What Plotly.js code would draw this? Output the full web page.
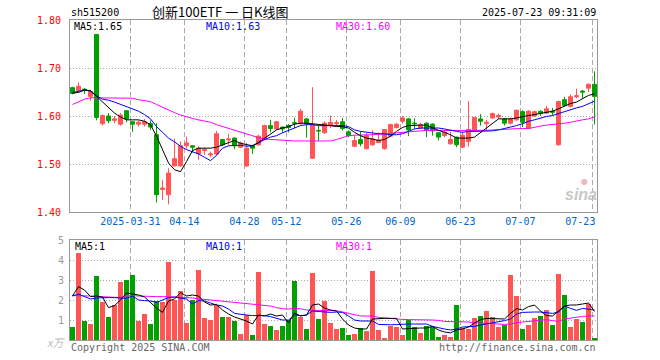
<!DOCTYPE html>
<html><head><meta charset="utf-8">
<script src="https://cdn.plot.ly/plotly-3.0.1.min.js"></script>
<style>html,body{margin:0;padding:0;background:#fff}#chart{width:660px;height:360px}</style>
</head><body><div id="chart"></div>
<script>
const dates = ["2025-03-17","2025-03-18","2025-03-19","2025-03-20","2025-03-21","2025-03-24","2025-03-25","2025-03-26","2025-03-27","2025-03-28",
"2025-03-31","2025-04-01","2025-04-02","2025-04-03","2025-04-07","2025-04-08","2025-04-09","2025-04-10","2025-04-11","2025-04-14",
"2025-04-15","2025-04-16","2025-04-17","2025-04-18","2025-04-21","2025-04-22","2025-04-23","2025-04-24","2025-04-25","2025-04-28",
"2025-04-29","2025-04-30","2025-05-06","2025-05-07","2025-05-08","2025-05-09","2025-05-12","2025-05-13","2025-05-14","2025-05-15",
"2025-05-16","2025-05-19","2025-05-20","2025-05-21","2025-05-22","2025-05-23","2025-05-26","2025-05-27","2025-05-28","2025-05-29",
"2025-05-30","2025-06-03","2025-06-04","2025-06-05","2025-06-06","2025-06-09","2025-06-10","2025-06-11","2025-06-12","2025-06-13",
"2025-06-16","2025-06-17","2025-06-18","2025-06-19","2025-06-20","2025-06-23","2025-06-24","2025-06-25","2025-06-26","2025-06-27",
"2025-06-30","2025-07-01","2025-07-02","2025-07-03","2025-07-04","2025-07-07","2025-07-08","2025-07-09","2025-07-10","2025-07-11",
"2025-07-14","2025-07-15","2025-07-16","2025-07-17","2025-07-18","2025-07-21","2025-07-22","2025-07-23"];

const openP = [1.659,1.653,1.656,1.641,1.770,1.584,1.600,1.591,1.583,1.611,
1.588,1.583,1.583,1.584,1.561,1.447,1.436,1.496,1.496,1.538,
1.538,1.521,1.528,1.519,1.521,1.551,1.550,1.554,1.535,1.496,
1.538,1.540,1.551,1.580,1.573,1.577,1.580,1.586,1.584,1.594,
1.512,1.570,1.565,1.580,1.584,1.588,1.567,1.537,1.551,1.532,
1.540,1.545,1.532,1.558,1.576,1.589,1.594,1.585,1.574,1.585,
1.583,1.565,1.559,1.542,1.556,1.535,1.547,1.569,1.594,1.584,
1.596,1.598,1.594,1.585,1.592,1.609,1.574,1.600,1.610,1.606,
1.610,1.540,1.634,1.620,1.640,1.652,1.658,1.666];
const highP = [1.661,1.670,1.658,1.655,1.771,1.603,1.606,1.600,1.606,1.612,
1.590,1.591,1.594,1.591,1.585,1.467,1.491,1.553,1.547,1.557,
1.539,1.537,1.534,1.526,1.569,1.552,1.563,1.556,1.547,1.544,
1.540,1.561,1.582,1.592,1.590,1.578,1.583,1.596,1.615,1.596,
1.660,1.580,1.589,1.601,1.592,1.596,1.570,1.560,1.568,1.565,
1.570,1.566,1.573,1.584,1.585,1.600,1.596,1.595,1.586,1.587,
1.585,1.567,1.570,1.567,1.557,1.568,1.631,1.598,1.604,1.592,
1.607,1.605,1.596,1.597,1.613,1.612,1.612,1.611,1.612,1.621,
1.617,1.632,1.640,1.645,1.657,1.654,1.668,1.693];
const lowP = [1.645,1.651,1.646,1.632,1.591,1.580,1.585,1.585,1.580,1.587,
1.567,1.578,1.578,1.571,1.420,1.425,1.416,1.495,1.495,1.532,
1.524,1.509,1.519,1.514,1.517,1.537,1.540,1.531,1.533,1.494,
1.521,1.538,1.549,1.566,1.571,1.565,1.566,1.575,1.582,1.555,
1.511,1.548,1.563,1.575,1.578,1.570,1.556,1.535,1.537,1.530,
1.538,1.543,1.530,1.556,1.574,1.584,1.558,1.573,1.573,1.556,
1.559,1.549,1.556,1.541,1.535,1.533,1.536,1.567,1.580,1.570,
1.594,1.594,1.580,1.582,1.590,1.577,1.573,1.598,1.600,1.604,
1.601,1.538,1.620,1.618,1.637,1.637,1.650,1.582];
const closeP = [1.647,1.662,1.653,1.651,1.597,1.601,1.590,1.594,1.602,1.594,
1.583,1.587,1.588,1.577,1.436,1.450,1.481,1.511,1.538,1.544,
1.535,1.533,1.530,1.521,1.563,1.540,1.552,1.538,1.544,1.533,
1.533,1.558,1.580,1.574,1.588,1.573,1.576,1.585,1.610,1.584,
1.582,1.569,1.585,1.587,1.586,1.574,1.559,1.549,1.542,1.559,
1.552,1.550,1.572,1.582,1.583,1.596,1.571,1.584,1.582,1.571,
1.569,1.556,1.566,1.551,1.540,1.560,1.572,1.597,1.589,1.587,
1.605,1.601,1.585,1.594,1.612,1.587,1.610,1.609,1.605,1.615,
1.608,1.630,1.622,1.640,1.642,1.650,1.666,1.641];

const ma5 = [1.648,1.649,1.654,1.652,1.641,1.629,1.617,1.606,1.598,1.592,
1.592,1.592,1.589,1.582,1.558,1.530,1.502,1.488,1.484,1.505,
1.528,1.533,1.533,1.533,1.535,1.540,1.545,1.549,1.543,1.540,
1.538,1.545,1.554,1.563,1.571,1.575,1.578,1.583,1.585,1.585,
1.584,1.582,1.582,1.580,1.578,1.578,1.575,1.566,1.559,1.554,
1.552,1.549,1.551,1.558,1.568,1.576,1.580,1.581,1.581,1.581,
1.575,1.570,1.566,1.561,1.554,1.554,1.554,1.556,1.566,1.575,
1.585,1.594,1.594,1.594,1.596,1.599,1.601,1.603,1.605,1.608,
1.610,1.615,1.620,1.626,1.629,1.636,1.643,1.646];
const ma10 = [1.649,1.651,1.654,1.653,1.642,1.635,1.633,1.629,1.624,1.620,
1.615,1.610,1.603,1.594,1.578,1.565,1.554,1.546,1.537,1.530,
1.526,1.521,1.514,1.507,1.518,1.533,1.538,1.539,1.539,1.537,
1.538,1.544,1.551,1.556,1.559,1.565,1.570,1.575,1.580,1.582,
1.582,1.580,1.580,1.581,1.581,1.580,1.578,1.571,1.568,1.566,
1.565,1.563,1.563,1.561,1.561,1.563,1.568,1.573,1.575,1.575,
1.575,1.575,1.573,1.570,1.568,1.566,1.568,1.568,1.568,1.568,
1.569,1.571,1.574,1.576,1.580,1.584,1.589,1.592,1.596,1.599,
1.601,1.605,1.610,1.613,1.617,1.620,1.626,1.631];
const ma30 = [1.624,1.630,1.635,1.638,1.638,1.638,1.638,1.638,1.638,1.638,
1.637,1.634,1.632,1.630,1.624,1.618,1.613,1.607,1.602,1.598,
1.595,1.592,1.590,1.587,1.582,1.578,1.574,1.570,1.566,1.563,
1.559,1.555,1.552,1.551,1.550,1.550,1.549,1.548,1.548,1.548,
1.548,1.548,1.548,1.548,1.551,1.555,1.559,1.560,1.560,1.561,
1.561,1.562,1.562,1.563,1.565,1.566,1.567,1.569,1.569,1.570,
1.570,1.570,1.570,1.570,1.569,1.569,1.569,1.569,1.569,1.570,
1.571,1.571,1.572,1.573,1.574,1.574,1.574,1.577,1.579,1.581,
1.582,1.584,1.585,1.587,1.590,1.592,1.594,1.598];

const volume = [0.65,4.37,0.97,0.80,3.22,1.90,1.15,1.75,2.91,3.00,
3.26,0.96,1.30,0.80,1.97,1.90,3.92,2.00,2.45,0.87,
2.00,3.50,1.10,1.00,1.77,1.17,1.17,0.96,0.31,1.27,
0.25,3.41,0.80,0.71,0.50,0.71,1.00,2.97,1.17,0.55,
3.37,1.05,1.95,0.87,0.55,0.62,0.25,0.30,0.62,0.45,
3.45,0.50,0.12,0.72,0.67,0.25,1.00,0.67,0.37,0.70,
0.63,0.17,0.25,0.17,1.75,0.58,0.53,1.08,1.20,1.47,
1.13,0.67,0.75,3.25,2.20,0.55,0.75,1.12,1.20,1.50,
0.75,3.30,2.25,0.63,1.03,0.92,1.80,0.12];
const vma5 = [2.2,2.67,2.5,2.17,2.2,2.15,1.62,1.72,2.0,2.35,
2.3,2.25,2.15,1.85,1.6,1.38,1.95,2.05,2.37,2.2,
2.25,2.2,1.9,1.75,1.78,1.5,1.3,1.15,1.05,0.95,
0.8,1.25,1.2,1.3,1.2,1.25,0.85,1.35,1.2,1.25,
1.75,1.8,1.6,1.5,1.45,1.05,0.75,0.6,0.55,0.55,
1.05,1.08,1.08,1.08,1.08,0.55,0.57,0.6,0.6,0.6,
0.68,0.5,0.4,0.36,0.5,0.55,0.65,0.85,1.02,1.08,
1.07,1.05,1.05,1.33,1.57,1.5,1.67,1.75,1.45,1.22,
1.2,1.45,1.7,1.75,1.75,1.8,1.85,1.43];
const vma10 = [2.2,2.3,2.17,2.05,2.1,2.12,2.12,2.12,2.1,2.08,
2.2,2.0,1.97,1.95,1.88,2.0,2.12,2.15,2.1,2.05,
1.8,1.97,1.95,1.85,1.75,1.7,1.55,1.33,1.28,1.25,
1.22,1.22,1.22,1.17,1.1,1.0,1.0,1.25,1.22,1.25,
1.45,1.42,1.4,1.38,1.4,1.38,1.2,1.0,0.95,0.95,
0.95,0.78,0.76,0.76,0.77,0.8,0.8,0.8,0.8,0.8,
0.68,0.6,0.55,0.5,0.55,0.65,0.65,0.68,0.75,0.8,
0.85,0.9,0.97,1.05,1.3,1.38,1.4,1.4,1.4,1.38,
1.33,1.4,1.7,1.58,1.48,1.58,1.55,1.5];
const vma30 = [2.22,2.22,2.2,2.2,2.18,2.17,2.15,2.13,2.12,2.2,
2.22,2.2,2.18,2.17,2.17,2.17,2.17,2.15,2.13,2.12,
2.1,2.06,2.03,2.0,1.98,1.95,1.9,1.88,1.85,1.82,
1.78,1.75,1.72,1.7,1.62,1.56,1.55,1.58,1.56,1.5,
1.48,1.48,1.49,1.5,1.47,1.4,1.33,1.25,1.2,1.2,
1.2,1.13,1.1,1.06,1.05,1.03,1.02,1.02,1.0,1.0,
1.0,0.98,0.93,0.92,0.92,0.92,0.9,0.86,0.83,0.83,
0.82,0.8,0.78,0.8,0.87,0.9,0.93,0.95,0.98,1.02,
0.97,0.93,1.05,1.1,1.15,1.18,1.2,1.2];

const tickDates = ["2025-03-31","2025-04-14","2025-04-28","2025-05-12","2025-05-26","2025-06-09","2025-06-23","2025-07-07","2025-07-23"];
const tickLabels = ["2025-03-31","04-14","04-28","05-12","05-26","06-09","06-23","07-07","07-23\u00a0\u00a0\u00a0\u00a0"];
const priceTicks = [1.40,1.50,1.60,1.70,1.80];
const priceTickLabels = ["1.40","1.50","1.60","1.70","1.80"];
const volTicks = [1,2,3,4,5];

const upColor = '#ff5555', downColor = '#00a000';
const mono = 'DejaVu Sans Mono, Liberation Mono, monospace';
const idx = dates.map((d, i) => i);
const volColors = closeP.map((c, i) => c >= openP[i] ? upColor : downColor);
const tickVals = tickDates.map(d => dates.indexOf(d) - 0.35);
const xRange = [-0.4167, dates.length - 1 + 0.4167];

const traces = [
  {type:'candlestick', x:idx, open:openP, high:highP, low:lowP, close:closeP, xaxis:'x', yaxis:'y',
   increasing:{line:{color:upColor,width:1}, fillcolor:upColor},
   decreasing:{line:{color:downColor,width:1}, fillcolor:downColor},
   whiskerwidth:0, hoverinfo:'skip', showlegend:false},
  {type:'scatter', mode:'lines', x:idx, y:ma30, line:{color:'#ff00ff',width:1}, xaxis:'x', yaxis:'y', hoverinfo:'skip'},
  {type:'scatter', mode:'lines', x:idx, y:ma10, line:{color:'#0000ff',width:1}, xaxis:'x', yaxis:'y', hoverinfo:'skip'},
  {type:'scatter', mode:'lines', x:idx, y:ma5, line:{color:'#000000',width:1}, xaxis:'x', yaxis:'y', hoverinfo:'skip'},
  {type:'bar', x:idx, y:volume, width:0.83, marker:{color:volColors, line:{width:0}}, xaxis:'x2', yaxis:'y2', hoverinfo:'skip'},
  {type:'scatter', mode:'lines', x:idx, y:vma30, line:{color:'#ff00ff',width:1}, xaxis:'x2', yaxis:'y2', hoverinfo:'skip'},
  {type:'scatter', mode:'lines', x:idx, y:vma10, line:{color:'#0000ff',width:1}, xaxis:'x2', yaxis:'y2', hoverinfo:'skip'},
  {type:'scatter', mode:'lines', x:idx, y:vma5, line:{color:'#000000',width:1}, xaxis:'x2', yaxis:'y2', hoverinfo:'skip'}
];

const px = v => (v - 70) / 527;
const py = v => (340 - v) / 320;
function ann(text, x, y, xanchor, color, size, family, extra) {
  return Object.assign({text:text, xref:'paper', yref:'paper', x:px(x), y:py(y), xanchor:xanchor, yanchor:'middle',
    showarrow:false, borderpad:0, font:{family:family||mono, size:size||10, color:color||'#000'}}, extra||{});
}

const gridColor = '#aaaaaa';
const frameColor = '#999999';
const layout = {
  width:660, height:360, margin:{l:70, r:63, t:20, b:20},
  paper_bgcolor:'#ffffff', plot_bgcolor:'#ffffff', showlegend:false,
  boxgap:0.3, boxgroupgap:0.05, bargap:0,
  xaxis:{domain:[0,1], anchor:'y', range:xRange, tickmode:'array', tickvals:tickVals, ticktext:tickLabels,
    showgrid:true, gridcolor:gridColor, griddash:'5px,3px', gridwidth:1, zeroline:false,
    showline:true, mirror:true, linecolor:frameColor, linewidth:1, ticks:'',
    tickfont:{family:mono, size:10, color:'#0066cc'}, rangeslider:{visible:false}, fixedrange:true},
  yaxis:{domain:[0.4,1], range:[1.40,1.80], tickmode:'array', tickvals:priceTicks, ticktext:priceTickLabels,
    showgrid:true, gridcolor:gridColor, griddash:'1px,2px', gridwidth:1, zeroline:false,
    showline:true, mirror:true, linecolor:frameColor, linewidth:1, ticks:'', ticklabelstandoff:6,
    tickfont:{family:mono, size:10, color:'#ff0000'}, fixedrange:true},
  xaxis2:{domain:[0,1], anchor:'y2', range:xRange, tickmode:'array', tickvals:tickVals, showticklabels:false,
    showgrid:true, gridcolor:gridColor, griddash:'5px,3px', gridwidth:1, zeroline:false,
    showline:true, mirror:true, linecolor:frameColor, linewidth:1, ticks:'', fixedrange:true},
  yaxis2:{domain:[0,0.3125], range:[0,5], tickmode:'array', tickvals:volTicks,
    showgrid:true, gridcolor:gridColor, griddash:'1px,2px', gridwidth:1, zeroline:false,
    showline:true, mirror:true, linecolor:frameColor, linewidth:1, ticks:'', ticklabelstandoff:3,
    tickfont:{family:mono, size:10, color:'#999999'}, fixedrange:true},
  annotations:[
    ann('sh515200', 70, 12, 'left', '#000', 10),
    ann('创新100ETF 一 日K线图', 151, 11, 'left', '#000', 13, 'Noto Sans CJK SC'),
    ann('2025-07-23 09:31:09', 597, 12, 'right', '#000', 10),
    ann('MA5:1.65', 73, 27, 'left', '#000000', 10),
    ann('MA10:1.63', 205, 27, 'left', '#0000ff', 10),
    ann('MA30:1.60', 335, 27, 'left', '#ff00ff', 10),
    ann('MA5:1', 74, 246, 'left', '#000000', 10),
    ann('MA10:1', 205, 246, 'left', '#0000ff', 10),
    ann('MA30:1', 335, 246, 'left', '#ff00ff', 10),
    ann('Copyright 2025 SINA.COM', 70, 347, 'left', '#666666', 10),
    ann('http://finance.sina.com.cn', 597, 347, 'right', '#666666', 10),
    ann('x万', 56, 342, 'center', '#bbbbbb', 11, 'Noto Sans CJK SC', {font:{family:'Noto Sans CJK SC', size:11, color:'#bbbbbb', style:'italic'}}),
    ann('●', 584, 181, 'center', '#f4b8b8', 8, 'DejaVu Sans'),
    ann('sina', 581, 194, 'center', '#c8c8c8', 16, 'Liberation Sans', {font:{family:'Liberation Sans', size:16, color:'#c8c8c8', weight:'bold', style:'italic'}})
  ]
};

Plotly.newPlot('chart', traces, layout, {staticPlot:true, displayModeBar:false});
</script>
</body></html>
